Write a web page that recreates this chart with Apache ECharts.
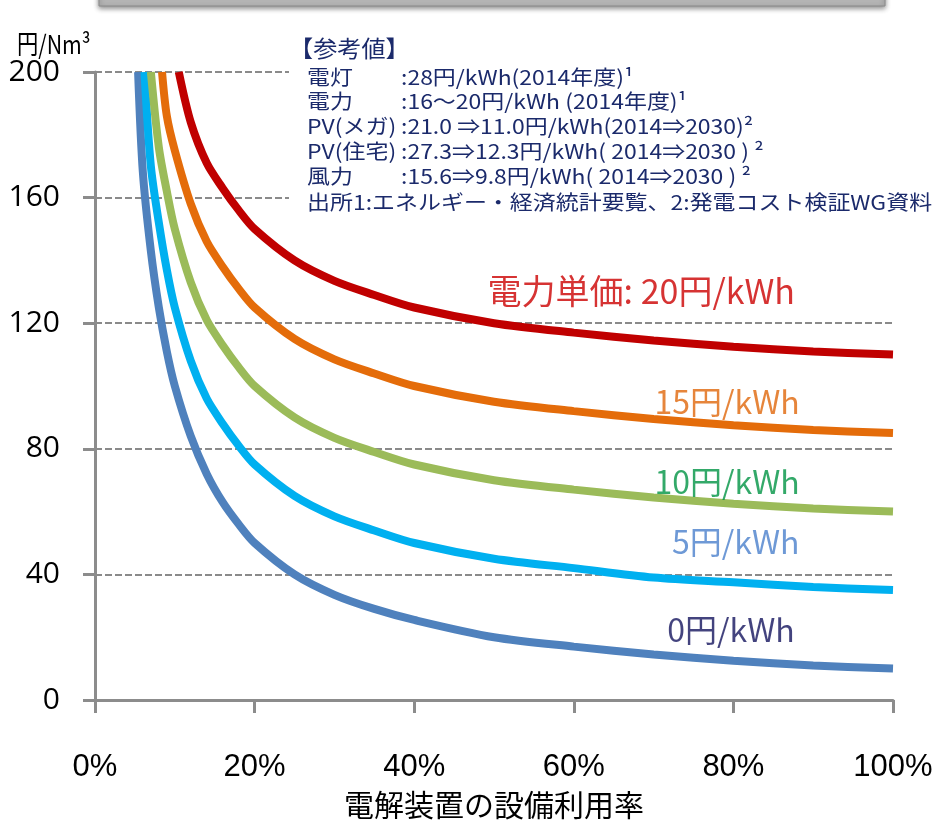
<!DOCTYPE html>
<html><head><meta charset="utf-8">
<script src="https://cdn.jsdelivr.net/npm/echarts@6/dist/echarts.min.js"></script>
<style>html,body{margin:0;padding:0;background:#fff}#c{width:938px;height:825px}</style>
</head><body><div id="c"></div>
<script>
// ---- data ----
const xTicks = [0, 20, 40, 60, 80, 100];          // 電解装置の設備利用率 (%)
const yTicks = [0, 40, 80, 120, 160, 200];        // 円/Nm3
const seriesNames = ['0円/kWh', '5円/kWh', '10円/kWh', '15円/kWh', '20円/kWh'];
const rate0  = [[5.4,200],[6,168],[7,143],[8,125],[9,111],[10,100],[12,84],[14,72],[16,63],[18,56],[20,50],[25,40],[30,33.5],[35,29],[40,25.5],[50,20],[60,17],[70,14.5],[80,12.5],[90,11],[100,10]];
const rate5  = [[6.2,200],[7,170],[8,152],[9,137],[10,125],[12,108],[14,96],[16,88],[18,81],[20,75],[25,65],[30,58.5],[35,54],[40,50],[50,45],[60,42],[70,39],[80,37.5],[90,36],[100,35]];
const rate10 = [[7,200],[8,176],[9,162],[10,150],[12,133],[14,121],[16,113],[18,106],[20,100],[25,90],[30,83.5],[35,79],[40,75],[50,70],[60,67],[70,64.5],[80,62.5],[90,61],[100,60]];
const rate15 = [[8.4,200],[9,186],[10,175],[12,158],[14,146],[16,138],[18,131],[20,125],[25,115],[30,108.5],[35,104],[40,100],[50,95],[60,92],[70,89.5],[80,87.5],[90,86],[100,85]];
const rate20 = [[10.5,200],[12,184],[14,171],[16,163],[18,156],[20,150],[25,140],[30,133.5],[35,129],[40,125],[50,120],[60,117],[70,114.5],[80,112.5],[90,111],[100,110]];
const curveLabels = ['0円/kWh', '5円/kWh', '10円/kWh', '15円/kWh', '電力単価: 20円/kWh'];
const refTitle = '【参考値】';
const refNames = ['電灯', '電力', 'PV(メガ)', 'PV(住宅)', '風力'];
const refValues = [':28円/kWh(2014年度)¹', ':16～20円/kWh (2014年度)¹', ':21.0 ⇒11.0円/kWh(2014⇒2030)²', ':27.3⇒12.3円/kWh( 2014⇒2030 ) ²', ':15.6⇒9.8円/kWh( 2014⇒2030 ) ²'];
const refSource = '出所1:エネルギー・経済統計要覧、2:発電コスト検証WG資料';
const yUnit = '円/Nm³';
const xName = '電解装置の設備利用率';

const lineColors = ['#4f81bd', '#00b0f0', '#9bbb59', '#e46c0a', '#c00000'];
const labelColors = ['#14145e', '#4a7fcc', '#009444', '#e0660a', '#cc0000'];
const allData = [rate0, rate5, rate10, rate15, rate20];

const chart = echarts.init(document.getElementById('c'), null, {renderer: 'canvas'});
const CJK = '"Noto Sans CJK JP", "Noto Sans", sans-serif';

const series = allData.map((d, i) => ({
  name: seriesNames[i], type: 'line', data: d, smooth: 0.3, showSymbol: false,
  lineStyle: {color: lineColors[i], width: 8}, itemStyle: {color: lineColors[i]},
  z: 3 + i, silent: true
}));

// curve labels, anchored in data space
const labelPos = [[71.7, 22.3, 0], [72.3, 50.5, 1], [70.1, 69.5, 2], [70.1, 95, 3], [49.2, 130.3, 4]];
labelPos.forEach(([x, y, i]) => {
  series.push({
    type: 'scatter', data: [[x, y]], symbolSize: 0, silent: true, z: 10,
    label: {show: true, position: 'right', distance: 0, formatter: curveLabels[i],
      color: labelColors[i], fontSize: i === 4 ? 34 : 32, fontFamily: CJK}
  });
});

const graphic = [
  {type: 'rect', shape: {x: 99, y: -20, width: 786, height: 26}, z: 1,
   style: {fill: '#b4b4b4', stroke: '#8a8a8a', lineWidth: 1, shadowBlur: 5, shadowOffsetY: 2, shadowColor: 'rgba(0,0,0,0.45)'}},
  {type: 'text', x: 17, y: 44, z: 20, scaleX: 0.82, style: {text: yUnit, fontSize: 26, fontFamily: CJK, fill: '#000', verticalAlign: 'middle'}},
  {type: 'rect', shape: {x: 289, y: 30, width: 649, height: 188}, z: 50, style: {fill: '#fff'}}
];
const rowY = [77, 101, 126, 151, 176];
graphic.push({type: 'text', x: 289, y: 48, z: 60, scaleX: 1.05,
  style: {text: refTitle, fontSize: 23, fontFamily: CJK, fill: '#1b2a6b', verticalAlign: 'middle'}});
refNames.forEach((n, i) => {
  graphic.push({type: 'text', x: 307, y: rowY[i], z: 60, scaleX: 1.12,
    style: {text: n, fontSize: 20.5, fontFamily: CJK, fill: '#1b2a6b', verticalAlign: 'middle'}});
  graphic.push({type: 'text', x: 401, y: rowY[i], z: 60, scaleX: 1.12,
    style: {text: refValues[i], fontSize: 20.5, fontFamily: CJK, fill: '#1b2a6b', verticalAlign: 'middle'}});
});
graphic.push({type: 'text', x: 307, y: 202, z: 60, scaleX: 1.12,
  style: {text: refSource, fontSize: 20.5, fontFamily: CJK, fill: '#1b2a6b', verticalAlign: 'middle'}});

chart.setOption({
  animation: false,
  backgroundColor: '#fff',
  grid: {left: 95, right: 45, top: 72, bottom: 108, containLabel: false},
  xAxis: {
    type: 'value', min: xTicks[0], max: xTicks[xTicks.length - 1], interval: 20,
    name: xName, nameLocation: 'middle', nameGap: 90,
    nameTextStyle: {fontSize: 30, fontFamily: CJK, color: '#000'},
    axisLine: {show: true, lineStyle: {color: '#8c8c8c', width: 3}},
    axisTick: {show: true, length: 13, lineStyle: {color: '#8c8c8c', width: 3}},
    axisLabel: {formatter: '{value}%', fontSize: 31, fontFamily: '"Liberation Sans Narrow", "Liberation Sans", sans-serif', color: '#000', margin: 52},
    splitLine: {show: false}
  },
  yAxis: {
    type: 'value', min: yTicks[0], max: yTicks[yTicks.length - 1], interval: 40,
    axisLine: {show: true, lineStyle: {color: '#8c8c8c', width: 3}},
    axisTick: {show: true, length: 12, lineStyle: {color: '#8c8c8c', width: 3}},
    axisLabel: {fontSize: 30, fontFamily: '"Open Sans", sans-serif', color: '#000', margin: 35},
    splitLine: {show: true, lineStyle: {color: '#8a8a8a', width: 2, type: [7, 3]}}
  },
  series: series,
  graphic: graphic
});
</script></body></html>
